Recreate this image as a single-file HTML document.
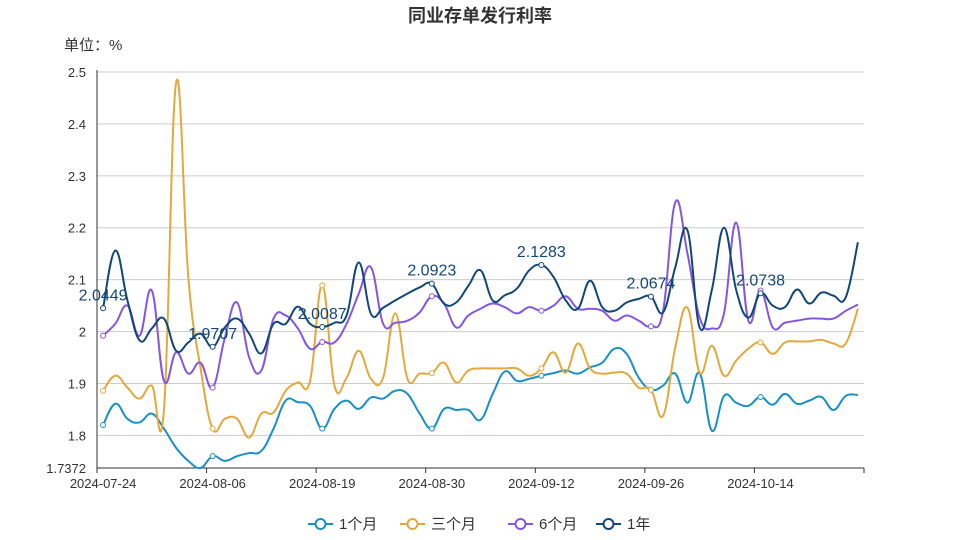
<!DOCTYPE html>
<html><head><meta charset="utf-8"><style>
html,body{margin:0;padding:0;background:#fff;}
svg{display:block;font-family:"Liberation Sans","Noto Sans CJK SC",sans-serif;}
</style></head><body>
<svg id="chart" width="960" height="540" viewBox="0 0 960 540">
<text x="480" y="22" text-anchor="middle" font-size="18" font-weight="bold" fill="#333">同业存单发行利率</text>
<text x="64" y="50" font-size="15" fill="#333">单位：%</text>
<g id="grid"></g>
<g id="series"></g>
<g id="legend"></g>
</svg>
<script>
const dates=["2024-07-24","2024-07-25","2024-07-26","2024-07-29","2024-07-30","2024-07-31","2024-08-01","2024-08-02","2024-08-05","2024-08-06","2024-08-07","2024-08-08","2024-08-09","2024-08-12","2024-08-13","2024-08-14","2024-08-15","2024-08-16","2024-08-19","2024-08-20","2024-08-21","2024-08-22","2024-08-23","2024-08-26","2024-08-27","2024-08-28","2024-08-29","2024-08-30","2024-09-02","2024-09-03","2024-09-04","2024-09-05","2024-09-06","2024-09-09","2024-09-10","2024-09-11","2024-09-12","2024-09-13","2024-09-14","2024-09-18","2024-09-19","2024-09-20","2024-09-23","2024-09-24","2024-09-25","2024-09-26","2024-09-27","2024-09-29","2024-09-30","2024-10-08","2024-10-09","2024-10-10","2024-10-11","2024-10-12","2024-10-14","2024-10-15","2024-10-16","2024-10-17","2024-10-18","2024-10-21","2024-10-22","2024-10-23","2024-10-24"];
const m1=[1.82,1.861,1.832,1.825,1.842,1.813,1.776,1.751,1.7372,1.76,1.751,1.76,1.766,1.77,1.813,1.867,1.864,1.857,1.813,1.851,1.867,1.851,1.873,1.871,1.886,1.88,1.842,1.813,1.851,1.849,1.849,1.83,1.88,1.923,1.905,1.909,1.915,1.92,1.925,1.919,1.931,1.94,1.967,1.957,1.911,1.888,1.896,1.919,1.863,1.92,1.809,1.876,1.863,1.857,1.874,1.859,1.88,1.861,1.867,1.874,1.849,1.876,1.878];
const m3=[1.886,1.915,1.892,1.871,1.896,1.85,2.48,2.105,1.93,1.813,1.832,1.832,1.796,1.842,1.844,1.886,1.902,1.905,2.089,1.896,1.911,1.963,1.909,1.911,2.035,1.909,1.919,1.92,1.94,1.902,1.925,1.929,1.929,1.929,1.929,1.915,1.929,1.96,1.921,1.977,1.929,1.919,1.921,1.919,1.892,1.888,1.838,1.97,2.046,1.921,1.973,1.915,1.944,1.967,1.979,1.957,1.979,1.981,1.981,1.984,1.977,1.977,2.044];
const m6=[1.992,2.015,2.05,1.992,2.079,1.905,1.96,1.919,1.94,1.892,1.988,2.056,1.95,1.925,2.025,2.031,2.006,1.967,1.98,1.979,2.015,2.073,2.124,2.015,2.017,2.021,2.037,2.068,2.054,2.008,2.031,2.044,2.054,2.047,2.035,2.047,2.04,2.05,2.068,2.044,2.044,2.04,2.021,2.031,2.021,2.01,2.04,2.249,2.15,2.027,2.006,2.035,2.21,2.021,2.079,2.008,2.017,2.021,2.025,2.025,2.025,2.04,2.052];
const y1=[2.0449,2.156,2.06,1.983,2.006,2.025,1.963,1.979,1.996,1.9707,2.008,2.025,1.996,1.958,2.015,2.015,2.048,2.015,2.0087,2.017,2.031,2.133,2.034,2.046,2.06,2.073,2.085,2.0923,2.054,2.056,2.088,2.118,2.06,2.07,2.083,2.118,2.1283,2.105,2.06,2.044,2.098,2.047,2.04,2.056,2.063,2.0674,2.037,2.124,2.195,2.008,2.08,2.2,2.08,2.027,2.0738,2.05,2.047,2.081,2.054,2.075,2.069,2.066,2.172];
const yTicks=[1.8,1.9,2.0,2.1,2.2,2.3,2.4,2.5];
const seriesNames=["1个月","三个月","6个月","1年"];
const colors=["#1890c8","#e3a93c","#8656e0","#11477a"];
const yMin=1.7372,yMax=2.5;
const X0=97,X1=864,Y0=468,Y1=72;
const NS="http://www.w3.org/2000/svg";
const bw=(X1-X0)/dates.length;
function xs(i){return X0+(i+0.5)*bw;}
function ys(v){return Y0-(v-yMin)/(yMax-yMin)*(Y0-Y1);}
function mk(tag,attrs,parent){const e=document.createElementNS(NS,tag);for(const k in attrs)e.setAttribute(k,attrs[k]);parent.appendChild(e);return e;}
const grid=document.getElementById('grid');
yTicks.forEach(t=>{
  const l=mk('line',{x1:X0,x2:X1,y1:ys(t),y2:ys(t),stroke:'#ccc','stroke-width':1},grid);
  
  
  const tx=mk('text',{x:86,y:ys(t)+5,'text-anchor':'end','font-size':13,fill:'#333'},grid);
  tx.textContent=(Math.round(t*10)/10).toString();
  
  
});
const minL=mk('text',{x:86,y:Y0+5,'text-anchor':'end','font-size':13,fill:'#333'},grid);
minL.textContent=String(yMin);


const ax=mk('line',{x1:X0,x2:X1,y1:Y0,y2:Y0,stroke:'#333','stroke-width':1},grid);


const yax=mk('line',{x1:X0,x2:X0,y1:Y1-2,y2:Y0,stroke:'#333','stroke-width':1},grid);


for(let i=0;i<=dates.length;i+=9){
  const tx0=X0+i*bw;
  const tk=mk('line',{x1:tx0,x2:tx0,y1:Y0,y2:Y0+5,stroke:'#333'},grid);
  
  
  if(i<dates.length){
    const lb=mk('text',{x:xs(i),y:Y0+20,'text-anchor':'middle','font-size':13,fill:'#333'},grid);
    lb.textContent=dates[i];
    
    
  }
}
const lastTk=mk('line',{x1:X1,x2:X1,y1:Y0,y2:Y0+5,stroke:'#333'},grid);


function pathD(vals){
  const p=vals.map((v,i)=>[xs(i),ys(v)]);
  let d='M'+p[0][0]+','+p[0][1];
  for(let i=0;i<p.length-1;i++){
    const a=p[Math.max(0,i-1)],b=p[i],c=p[i+1],e=p[Math.min(p.length-1,i+2)];
    const k=0.2;
    const c1x=b[0]+(c[0]-a[0])*k,c1y=b[1]+(c[1]-a[1])*k;
    const c2x=c[0]-(e[0]-b[0])*k,c2y=c[1]-(e[1]-b[1])*k;
    d+=' C'+c1x+','+c1y+' '+c2x+','+c2y+' '+c[0]+','+c[1];
  }
  return d;
}
const sg=document.getElementById('series');
[m1,m3,m6,y1].forEach((vals,si)=>{
  const g=mk('g',{},sg);
  
  
  const p=mk('path',{d:pathD(vals),fill:'none',stroke:colors[si],'stroke-width':2},g);
  
  
  for(let i=0;i<vals.length;i+=9){
    const c=mk('circle',{cx:xs(i),cy:ys(vals[i]),r:2.5,fill:'#fff',stroke:colors[si],'stroke-width':1},g);
    
    
    if(si===3){
      const t=mk('text',{x:xs(i),y:ys(vals[i])-8,'text-anchor':'middle','font-size':16,fill:colors[si]},g);
      t.textContent=String(vals[i]);
      
      
    }
  }
});
const lg=document.getElementById('legend');
const lx=[308,400,508,596];
seriesNames.forEach((n,i)=>{
  const g=mk('g',{},lg);
  
  
  const l=mk('line',{x1:lx[i],x2:lx[i]+25,y1:524,y2:524,stroke:colors[i],'stroke-width':2},g);
  
  
  const c=mk('circle',{cx:lx[i]+12.5,cy:524,r:5,fill:'#fff',stroke:colors[i],'stroke-width':2},g);
  
  
  const t=mk('text',{x:lx[i]+31,y:529,'font-size':15,fill:'#333'},g);
  t.textContent=n;
  
  
});
</script>
</body></html>
